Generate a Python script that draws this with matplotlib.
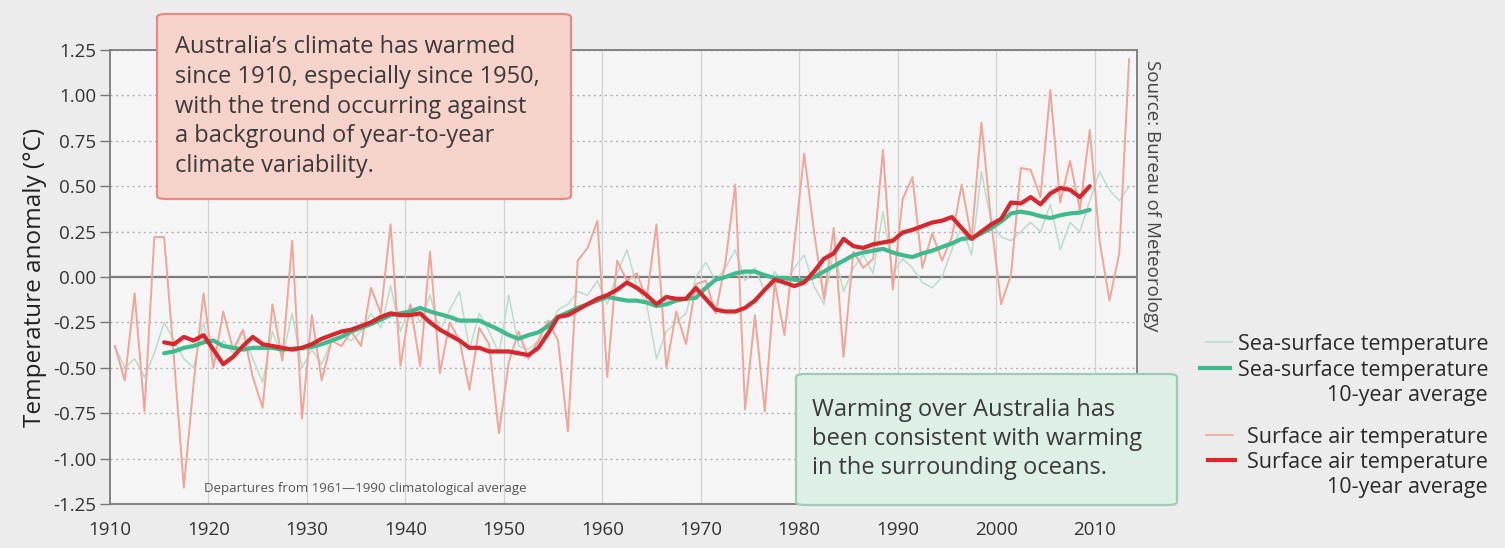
import numpy as np
import matplotlib
matplotlib.use("Agg")
import matplotlib.pyplot as plt
from matplotlib.patches import FancyBboxPatch
from matplotlib.lines import Line2D

plt.rcParams['font.family'] = ['Open Sans', 'DejaVu Sans']

# annual anomalies (deg C, relative to 1961-1990)
years = np.arange(1910, 2014)
sat_annual = [
    -0.38, -0.57, -0.09, -0.74, 0.22, 0.22, -0.45, -1.16, -0.58, -0.09,
    -0.50, -0.19, -0.40, -0.29, -0.55, -0.72, -0.15, -0.46, 0.20, -0.78,
    -0.21, -0.57, -0.35, -0.38, -0.30, -0.38, -0.06, -0.20, 0.29, -0.49,
    -0.15, -0.49, 0.14, -0.53, -0.25, -0.35, -0.62, -0.28, -0.37, -0.86,
    -0.47, -0.30, -0.45, -0.35, -0.24, -0.35, -0.85, 0.09, 0.16, 0.31,
    -0.55, 0.09, -0.02, 0.02, -0.12, 0.29, -0.50, -0.19, -0.37, -0.04,
    -0.02, -0.20, 0.08, 0.51, -0.73, -0.21, -0.74, -0.03, -0.32, 0.18,
    0.68, 0.25, -0.12, 0.27, -0.44, 0.14, 0.05, 0.10, 0.70, -0.07,
    0.43, 0.55, 0.05, 0.24, 0.09, 0.22, 0.51, 0.21, 0.85, 0.30,
    -0.15, 0.01, 0.60, 0.59, 0.44, 1.03, 0.41, 0.64, 0.37, 0.81,
    0.20, -0.13, 0.13, 1.20,
]
sst_annual = [
    -0.38, -0.50, -0.45, -0.55, -0.42, -0.25, -0.35, -0.45, -0.50, -0.25,
    -0.48, -0.35, -0.42, -0.30, -0.45, -0.58, -0.30, -0.45, -0.20, -0.50,
    -0.40, -0.48, -0.35, -0.32, -0.35, -0.30, -0.20, -0.28, -0.05, -0.30,
    -0.15, -0.25, -0.10, -0.30, -0.18, -0.08, -0.40, -0.20, -0.30, -0.42,
    -0.10, -0.38, -0.40, -0.35, -0.30, -0.18, -0.15, -0.08, -0.10, -0.02,
    -0.15, 0.02, 0.15, -0.05, -0.15, -0.45, -0.30, -0.25, -0.20, 0.00,
    0.08, -0.02, 0.05, 0.15, -0.02, 0.05, -0.08, 0.03, -0.05, 0.05,
    0.12, -0.05, -0.15, 0.15, -0.08, 0.05, 0.12, 0.02, 0.36, 0.02,
    0.10, 0.05, -0.03, -0.06, 0.00, 0.15, 0.28, 0.12, 0.58, 0.30,
    0.22, 0.20, 0.25, 0.30, 0.25, 0.40, 0.15, 0.30, 0.25, 0.42,
    0.58, 0.48, 0.42, 0.50,
]

# centred 10-year averages
avg_years = np.arange(1915, 2010)
sat_avg = [
    -0.36, -0.37, -0.33, -0.35, -0.32, -0.40, -0.48, -0.44, -0.38, -0.33,
    -0.37, -0.38, -0.39, -0.40, -0.39, -0.37, -0.34, -0.32, -0.30, -0.29,
    -0.27, -0.25, -0.22, -0.20, -0.21, -0.21, -0.20, -0.25, -0.29, -0.32,
    -0.35, -0.39, -0.39, -0.41, -0.41, -0.41, -0.42, -0.43, -0.39, -0.31,
    -0.22, -0.21, -0.18, -0.15, -0.12, -0.10, -0.07, -0.03, -0.06, -0.10,
    -0.15, -0.11, -0.12, -0.12, -0.06, -0.12, -0.18, -0.19, -0.19, -0.17,
    -0.13, -0.07, -0.015, -0.03, -0.05, -0.03, 0.03, 0.10, 0.13, 0.21,
    0.17, 0.16, 0.18, 0.19, 0.20, 0.245, 0.26, 0.28, 0.30, 0.31,
    0.33, 0.27, 0.21, 0.25, 0.29, 0.32, 0.41, 0.405, 0.44, 0.40,
    0.46, 0.49, 0.48, 0.44, 0.50,
]
sst_avg = [
    -0.42, -0.41, -0.39, -0.38, -0.36, -0.35, -0.38, -0.39, -0.40, -0.39,
    -0.39, -0.39, -0.40, -0.395, -0.39, -0.385, -0.37, -0.35, -0.33, -0.30,
    -0.28, -0.26, -0.235, -0.21, -0.20, -0.19, -0.17, -0.19, -0.205, -0.22,
    -0.24, -0.24, -0.24, -0.265, -0.29, -0.32, -0.34, -0.32, -0.305, -0.27,
    -0.22, -0.195, -0.17, -0.15, -0.13, -0.11, -0.12, -0.13, -0.13, -0.14,
    -0.16, -0.15, -0.13, -0.12, -0.115, -0.06, -0.015, 0.00, 0.02, 0.03,
    0.03, 0.01, -0.005, -0.005, -0.015, -0.02, 0.00, 0.03, 0.06, 0.09,
    0.12, 0.135, 0.145, 0.155, 0.135, 0.12, 0.11, 0.13, 0.145, 0.165,
    0.185, 0.21, 0.215, 0.24, 0.27, 0.305, 0.35, 0.36, 0.35, 0.335,
    0.325, 0.34, 0.35, 0.355, 0.37,
]

yticks = [1.25, 1.0, 0.75, 0.5, 0.25, 0.0, -0.25, -0.5, -0.75, -1.0, -1.25]
xticks = list(range(1910, 2020, 10))

c_sat = '#f2a496'
c_sat_avg = '#d9262c'
c_sst = '#b9ddcc'
c_sst_avg = '#3fba8c'

W, H = 1505, 548
fig = plt.figure(figsize=(W / 100, H / 100), dpi=100, facecolor='#ececec')


def fx(px):
    return px / W


def fy(py):
    return 1 - py / H


ax = fig.add_axes([fx(110), fy(504), fx(1137) - fx(110), fy(50) - fy(504)])
ax.set_facecolor('#f5f5f5')

# grid
for yv in yticks:
    if yv == 0:
        ax.axhline(0, color='#7a7a7a', lw=1.6, zorder=1)
    else:
        ax.axhline(yv, color='#b0b0b0', lw=1.0, ls=(0, (1.5, 2.5)), zorder=1)
for xv in xticks[1:]:
    ax.axvline(xv, color='#d2d2d2', lw=0.9, zorder=1)

ax.plot(years + 0.5, sst_annual, color=c_sst, lw=1.1, zorder=2)
ax.plot(years + 0.5, sat_annual, color=c_sat, lw=1.4, zorder=3)
ax.plot(avg_years + 0.5, sst_avg, color=c_sst_avg, lw=3.0, zorder=4,
        solid_capstyle='round')
ax.plot(avg_years + 0.5, sat_avg, color=c_sat_avg, lw=3.0, zorder=5,
        solid_capstyle='round')

ax.set_xlim(1910, 2014.3)
ax.set_ylim(-1.25, 1.25)
ax.set_yticks(yticks)
ax.set_yticklabels(['%.2f' % v for v in yticks], fontsize=13.5, color='#333333')
ax.set_xticks(xticks)
ax.set_xticklabels([str(v) for v in xticks], fontsize=13.5, color='#333333')
ax.tick_params(axis='y', length=7, width=1, color='#777777', pad=3)
ax.tick_params(axis='x', length=0, pad=12)
for s in ax.spines.values():
    s.set_color('#7a7a7a')
    s.set_linewidth(1.3)

ax.set_ylabel('Temperature anomaly (°C)', fontsize=17.5, color='#222222',
              labelpad=4)

ax.text(1919.5, -1.167, 'Departures from 1961\u20141990 climatological average',
        fontsize=9.5, color='#555555', va='center')

fig.text(fx(1152), fy(60), 'Source: Bureau of Meteorology', rotation=-90,
         ha='center', va='top', fontsize=13.5, color='#444444')

# annotation boxes
red_box = FancyBboxPatch((fx(157), fy(199)), fx(571) - fx(157), fy(14) - fy(199),
                         boxstyle='round,pad=0,rounding_size=0.006',
                         transform=fig.transFigure, facecolor='#f6d3ca',
                         edgecolor='#e38b84', lw=1.6, zorder=10)
fig.add_artist(red_box)
fig.text(fx(175), fy(35),
         "Australia\u2019s climate has warmed\nsince 1910, especially since 1950,\n"
         "with the trend occurring against\na background of year-to-year\n"
         "climate variability.",
         ha='left', va='top', fontsize=17, color='#3a3a3a', linespacing=1.32,
         zorder=11)

green_box = FancyBboxPatch((fx(796), fy(505)), fx(1177) - fx(796), fy(374) - fy(505),
                           boxstyle='round,pad=0,rounding_size=0.006',
                           transform=fig.transFigure, facecolor='#deefe6',
                           edgecolor='#9ccdb3', lw=1.6, zorder=10)
fig.add_artist(green_box)
fig.text(fx(812), fy(398),
         "Warming over Australia has\nbeen consistent with warming\n"
         "in the surrounding oceans.",
         ha='left', va='top', fontsize=17, color='#3a3a3a', linespacing=1.27,
         zorder=11)

# legend
legend_rows = [
    (342, 'Sea-surface temperature', c_sst, 1.2, 1206, 1232),
    (368, 'Sea-surface temperature\n10-year average', c_sst_avg, 3.0, 1200, 1230),
    (435, 'Surface air temperature', c_sat, 1.2, 1206, 1233),
    (460, 'Surface air temperature\n10-year average', c_sat_avg, 3.0, 1208, 1235),
]
for ypx, label, col, lw, x0, x1 in legend_rows:
    fig.add_artist(Line2D([fx(x0), fx(x1)], [fy(ypx), fy(ypx)], color=col, lw=lw,
                          transform=fig.transFigure))
    fig.text(fx(1488), fy(ypx - 8), label, ha='right', va='top', fontsize=15.5,
             color='#2a2a2a', multialignment='right', linespacing=1.25)

fig.savefig('out.png', dpi=100, facecolor=fig.get_facecolor())
